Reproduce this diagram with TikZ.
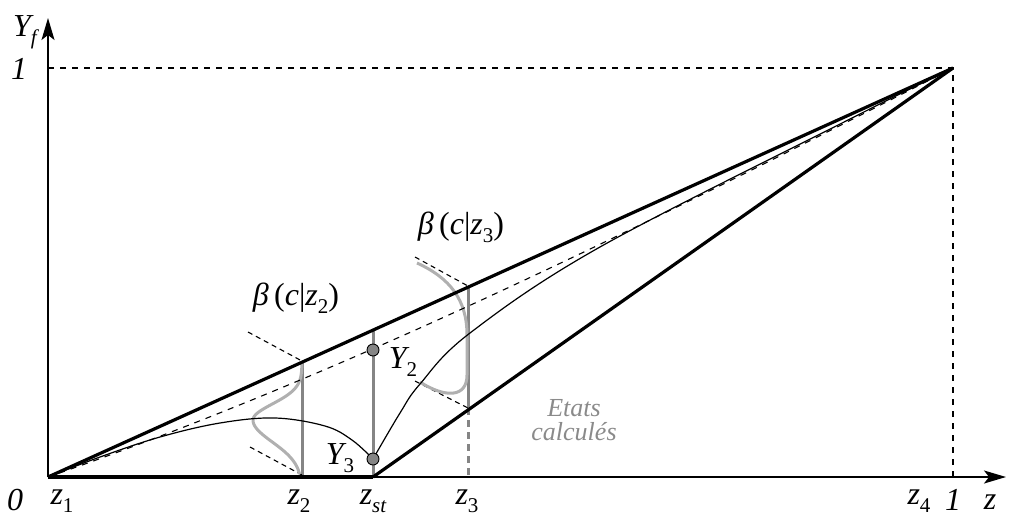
\documentclass[tikz,border=0pt]{standalone}
\usepackage{fontspec}
\setmainfont{Liberation Serif}
\usetikzlibrary{arrows.meta}
\definecolor{vgray}{HTML}{858585}
\definecolor{cgray}{HTML}{B0B0B0}
\definecolor{tgray}{HTML}{8A8A8A}
\newcommand\sbs[1]{\raisebox{-0.25em}{\fontsize{21}{23}\selectfont #1}}
\begin{document}
\begin{tikzpicture}[x=1pt,y=-1pt,
  axisline/.style={line width=1.5pt,-{Stealth[length=22pt,width=13pt,inset=5pt]}},
  bold/.style={line width=3.2pt},
  thinc/.style={line width=1.2pt},
  guide/.style={dash pattern=on 6pt off 6pt, line width=1.1pt},
  frame/.style={dash pattern=on 5pt off 4pt, line width=1.1pt},
  gv/.style={line width=3pt, draw=vgray},
  gc/.style={line width=3pt, draw=cgray},
  dot/.style={circle, fill=vgray, draw=black, line width=0.9pt, inner sep=0pt, minimum size=12pt},
  lab/.style={font=\fontsize{32}{36}\selectfont\itshape, inner sep=0pt},
  note/.style={font=\fontsize{26}{24}\selectfont\itshape, text=tgray, inner sep=0pt, align=center}
]
\useasboundingbox (0,0) rectangle (1011,520);

% key points
\coordinate (O) at (48,477);
\coordinate (P) at (953,68);
\coordinate (Zst) at (373,477);
\coordinate (Ytop) at (48,18);
\coordinate (Xend) at (1006,477);
\coordinate (Y1) at (48,68);
\coordinate (X1) at (953,477);
\coordinate (Z2b) at (302,477);
\coordinate (Z2t) at (302,361);
\coordinate (Zsb) at (373,477);
\coordinate (Zst2) at (373,330);
\coordinate (Z3t) at (468,286);
\coordinate (Z3m) at (468,408);
\coordinate (Z3b) at (468,477);

% guides to (1,1)
\draw[guide] (Y1) -- (P) -- (X1);

% gray verticals
\draw[gv] (Z2b) -- (Z2t);
\draw[gv] (Zsb) -- (Zst2);
\draw[gv] (Z3t) -- (Z3m);
\draw[gv, dash pattern=on 7pt off 5pt] (Z3m) -- (Z3b);

% distribution frames
\draw[frame] (248,332) -- (Z2t);
\draw[frame] (250,447) -- (302,475);
\draw[frame] (415,257) -- (Z3t);
\draw[frame] (415,381) -- (Z3m);

% gray distributions
\draw[gc] plot[domain=362:420, samples=40, variable=\t] ({302-49*exp(-((\t-420)^2)/(2*16^2))}, \t)
          -- plot[domain=420:474, samples=40, variable=\t] ({302-49*exp(-((\t-420)^2)/(2*22^2))}, \t);
\draw[gc] (417,263) .. controls (450,278) and (467,300) .. (467,335) -- (467,375)
          .. controls (467,398) and (445,398) .. (420,382);

% axes
\draw[axisline] (O) -- (Ytop);
\draw[axisline] (O) -- (Xend);

% bold bounds
\draw[bold] (O) -- (P);
\draw[bold] (O) -- (Zst);
\draw[bold] (Zst) -- (P);

% dashed mean line
\draw[guide] (O) .. controls (349.7,372.7) and (651.3,222.3) .. (P);

% thin curves
\coordinate (Y3p) at (373,459);
\coordinate (Y2p) at (373,350);
\draw[thinc] plot[smooth, tension=0.6] coordinates {(48,477) (100,457) (160,437) (220,423) (275,418) (325,426) (352,440) (373,459)};
\draw[thinc] plot[smooth, tension=0.6] coordinates {(373,459) (400,413) (420,384) (470,333) (600,247) (850,119) (953,68)};

% dots
\node[dot] (Y2) at (Y2p) {};
\node[dot] (Y3) at (Y3p) {};

% labels
\node[lab] (LYf) at (25,32) {Y\sbs{f}};
\node[lab] (L1y) at (19,69) {1};
\node[lab] (L0) at (15,500) {0};
\node[lab] (Lz1) at (62,501) {z\sbs{\upshape 1}};
\node[lab] (Lz2) at (299,501) {z\sbs{\upshape 2}};
\node[lab] (Lzst) at (373,501) {z\sbs{st}};
\node[lab] (Lz3) at (467,501) {z\sbs{\upshape 3}};
\node[lab] (Lz4) at (919,501) {z\sbs{\upshape 4}};
\node[lab] (L1x) at (953,500) {1};
\node[lab] (Lz) at (990,502) {z};
\node[lab] (LY2) at (403,362) {Y\sbs{\upshape 2}};
\node[lab] (LY3) at (340,458) {Y\sbs{\upshape 3}};
\node[lab] (Lb2) at (296,298) {β\,{\upshape (}c{\upshape |}z\sbs{\upshape 2}{\upshape )}};
\node[lab] (Lb3) at (461,227) {β\,{\upshape (}c{\upshape |}z\sbs{\upshape 3}{\upshape )}};
\node[note] (Lnote) at (574,420) {Etats\\calculés};
\end{tikzpicture}
\end{document}
